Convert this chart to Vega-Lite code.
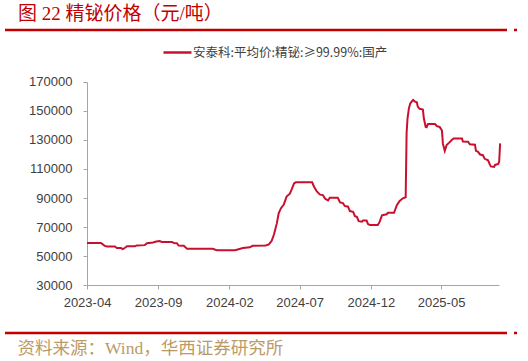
{
  "$schema": "https://vega.github.io/schema/vega-lite/v6.json",
  "width": 512,
  "height": 303,
  "autosize": {"type": "none"},
  "padding": {"left": 5, "top": 30, "right": 11, "bottom": 28},
  "background": "white",
  "title": {
    "text": "图 22 精铋价格（元/吨）",
    "anchor": "start",
    "frame": "group",
    "dx": 13,
    "dy": 17,
    "offset": 7,
    "baseline": "alphabetic",
    "fontSize": 19,
    "font": "Liberation Serif, Noto Sans CJK SC",
    "fontWeight": "normal",
    "color": "#C00000"
  },
  "view": {"stroke": null, "fill": null},
  "data": {
    "values": [
      {"date": "2023-04-01", "price": 59000},
      {"date": "2023-05-01", "price": 59000},
      {"date": "2023-05-09", "price": 57000},
      {"date": "2023-05-14", "price": 56500},
      {"date": "2023-05-31", "price": 56500},
      {"date": "2023-06-04", "price": 55500},
      {"date": "2023-06-13", "price": 55500},
      {"date": "2023-06-17", "price": 54800},
      {"date": "2023-06-21", "price": 55500},
      {"date": "2023-06-26", "price": 56700},
      {"date": "2023-07-13", "price": 56700},
      {"date": "2023-07-17", "price": 57300},
      {"date": "2023-08-03", "price": 57500},
      {"date": "2023-08-08", "price": 58800},
      {"date": "2023-08-21", "price": 59300},
      {"date": "2023-08-28", "price": 60000},
      {"date": "2023-09-04", "price": 60300},
      {"date": "2023-09-09", "price": 59700},
      {"date": "2023-09-30", "price": 59700},
      {"date": "2023-10-05", "price": 59000},
      {"date": "2023-10-11", "price": 58800},
      {"date": "2023-10-15", "price": 57200},
      {"date": "2023-10-26", "price": 57000},
      {"date": "2023-11-02", "price": 55000},
      {"date": "2023-12-27", "price": 55000},
      {"date": "2024-01-05", "price": 54000},
      {"date": "2024-02-13", "price": 54000},
      {"date": "2024-02-19", "price": 54500},
      {"date": "2024-03-01", "price": 55500},
      {"date": "2024-03-16", "price": 56000},
      {"date": "2024-03-22", "price": 57000},
      {"date": "2024-04-19", "price": 57200},
      {"date": "2024-04-26", "price": 58000},
      {"date": "2024-05-02", "price": 60500},
      {"date": "2024-05-07", "price": 65000},
      {"date": "2024-05-13", "price": 72500},
      {"date": "2024-05-17", "price": 79500},
      {"date": "2024-05-22", "price": 83000},
      {"date": "2024-05-28", "price": 85500},
      {"date": "2024-06-03", "price": 91000},
      {"date": "2024-06-10", "price": 93000},
      {"date": "2024-06-14", "price": 96000},
      {"date": "2024-06-19", "price": 100000},
      {"date": "2024-06-23", "price": 100800},
      {"date": "2024-07-28", "price": 100800},
      {"date": "2024-08-01", "price": 97800},
      {"date": "2024-08-07", "price": 94500},
      {"date": "2024-08-14", "price": 92300},
      {"date": "2024-08-20", "price": 92000},
      {"date": "2024-08-25", "price": 89500},
      {"date": "2024-08-31", "price": 88300},
      {"date": "2024-09-04", "price": 90200},
      {"date": "2024-09-21", "price": 90200},
      {"date": "2024-09-26", "price": 87000},
      {"date": "2024-10-02", "price": 86500},
      {"date": "2024-10-06", "price": 84500},
      {"date": "2024-10-13", "price": 84000},
      {"date": "2024-10-17", "price": 81000},
      {"date": "2024-10-24", "price": 80500},
      {"date": "2024-10-28", "price": 77500},
      {"date": "2024-11-01", "price": 77000},
      {"date": "2024-11-05", "price": 74000},
      {"date": "2024-11-12", "price": 73700},
      {"date": "2024-11-14", "price": 74400},
      {"date": "2024-11-22", "price": 74400},
      {"date": "2024-11-25", "price": 72000},
      {"date": "2024-11-29", "price": 71400},
      {"date": "2024-12-16", "price": 71400},
      {"date": "2024-12-20", "price": 73500},
      {"date": "2024-12-25", "price": 78000},
      {"date": "2025-01-04", "price": 78800},
      {"date": "2025-01-07", "price": 79800},
      {"date": "2025-01-20", "price": 79800},
      {"date": "2025-01-26", "price": 85000},
      {"date": "2025-02-01", "price": 88000},
      {"date": "2025-02-08", "price": 89800},
      {"date": "2025-02-14", "price": 90500},
      {"date": "2025-02-16", "price": 135000},
      {"date": "2025-02-18", "price": 145000},
      {"date": "2025-02-21", "price": 152000},
      {"date": "2025-02-24", "price": 155300},
      {"date": "2025-03-02", "price": 157600},
      {"date": "2025-03-06", "price": 156500},
      {"date": "2025-03-10", "price": 156000},
      {"date": "2025-03-12", "price": 153000},
      {"date": "2025-03-16", "price": 151500},
      {"date": "2025-03-23", "price": 151000},
      {"date": "2025-03-25", "price": 145000},
      {"date": "2025-03-29", "price": 139000},
      {"date": "2025-03-31", "price": 138800},
      {"date": "2025-04-03", "price": 141000},
      {"date": "2025-04-18", "price": 141000},
      {"date": "2025-04-22", "price": 139500},
      {"date": "2025-04-28", "price": 139000},
      {"date": "2025-05-03", "price": 136500},
      {"date": "2025-05-05", "price": 127500},
      {"date": "2025-05-09", "price": 122500},
      {"date": "2025-05-13", "price": 126500},
      {"date": "2025-05-18", "price": 128000},
      {"date": "2025-05-24", "price": 130000},
      {"date": "2025-05-28", "price": 131000},
      {"date": "2025-06-15", "price": 131000},
      {"date": "2025-06-17", "price": 129000},
      {"date": "2025-06-28", "price": 128800},
      {"date": "2025-07-02", "price": 127000},
      {"date": "2025-07-13", "price": 126800},
      {"date": "2025-07-15", "price": 122500},
      {"date": "2025-07-19", "price": 122000},
      {"date": "2025-07-24", "price": 120000},
      {"date": "2025-07-30", "price": 119500},
      {"date": "2025-08-03", "price": 117000},
      {"date": "2025-08-10", "price": 116000},
      {"date": "2025-08-14", "price": 113000},
      {"date": "2025-08-16", "price": 111800},
      {"date": "2025-08-23", "price": 111500},
      {"date": "2025-08-25", "price": 112800},
      {"date": "2025-09-01", "price": 113500},
      {"date": "2025-09-03", "price": 115000},
      {"date": "2025-09-05", "price": 127700}
    ]
  },
  "resolve": {"axis": {"y": "independent"}},
  "layer": [
    {
      "mark": {"type": "line", "strokeWidth": 2, "interpolate": "linear"},
      "encoding": {
        "x": {
          "field": "date",
          "type": "temporal",
          "scale": {
            "type": "utc",
            "domain": [
              {"year": 2022, "month": 10, "date": 6, "hours": 17, "utc": true},
              {"year": 2025, "month": 10, "date": 11, "hours": 7, "utc": true}
            ]
          },
          "axis": {
            "orient": "bottom",
            "offset": -48,
            "values": [
              {"year": 2023, "month": 4, "date": 1, "utc": true},
              {"year": 2023, "month": 9, "date": 1, "utc": true},
              {"year": 2024, "month": 2, "date": 1, "utc": true},
              {"year": 2024, "month": 7, "date": 1, "utc": true},
              {"year": 2024, "month": 12, "date": 1, "utc": true},
              {"year": 2025, "month": 5, "date": 1, "utc": true}
            ],
            "format": "%Y-%m",
            "grid": false,
            "domainColor": "#A6A6A6",
            "domainWidth": 1,
            "domainDash": [0, 82, 412, 18],
            "tickColor": "#A6A6A6",
            "tickSize": 4,
            "labelFont": "Liberation Sans",
            "labelFontSize": 13,
            "labelColor": "#404040",
            "labelPadding": 7,
            "labelFlush": false,
            "labelOverlap": false,
            "title": "资料来源：Wind，华西证券研究所",
            "titleX": 12,
            "titleY": 63,
            "titleAlign": "left",
            "titleBaseline": "middle",
            "titleAngle": 0,
            "titleFont": "Liberation Serif, Noto Sans CJK SC",
            "titleFontSize": 17.5,
            "titleFontWeight": "normal",
            "titleColor": "#BC9A66"
          }
        },
        "y": {
          "field": "price",
          "type": "quantitative",
          "scale": {"domain": [-3103.4, 205862], "nice": false, "zero": false},
          "axis": {
            "orient": "left",
            "offset": -82,
            "values": [30000, 50000, 70000, 90000, 110000, 130000, 150000, 170000],
            "format": "d",
            "grid": false,
            "domainColor": "#A6A6A6",
            "domainWidth": 1,
            "domainDash": [0, 48, 203, 52],
            "tickColor": "#A6A6A6",
            "tickSize": 4,
            "labelFont": "Liberation Sans",
            "labelFontSize": 13,
            "labelColor": "#404040",
            "labelPadding": 11,
            "title": null
          }
        },
        "color": {
          "datum": "安泰科:平均价:精铋:≥99.99%:国产",
          "scale": {"range": ["#C8102E"]},
          "legend": {
            "orient": "none",
            "legendX": 157,
            "legendY": 7,
            "title": null,
            "padding": 0,
            "symbolType": "stroke",
            "symbolSize": 784,
            "symbolStrokeWidth": 2.5,
            "labelFont": "Noto Sans CJK SC",
            "labelFontSize": 12.5,
            "labelColor": "#404040",
            "labelOffset": 0,
            "labelLimit": 400
          }
        }
      }
    },
    {
      "data": {"values": [{}]},
      "mark": {"type": "rule", "color": "#C00000", "strokeWidth": 2.5, "strokeDash": [3, 7, 502, 0]},
      "encoding": {
        "y": {"datum": 205862, "type": "quantitative", "axis": null, "scale": {"domain": [-3103.4, 205862], "nice": false, "zero": false}}
      }
    },
    {
      "data": {"values": [{}]},
      "mark": {"type": "rule", "color": "#C00000", "strokeWidth": 2.5, "strokeDash": [3, 7, 502, 0]},
      "encoding": {
        "y": {"datum": -3103.4, "type": "quantitative", "axis": null, "scale": {"domain": [-3103.4, 205862], "nice": false, "zero": false}}
      }
    }
  ]
}
